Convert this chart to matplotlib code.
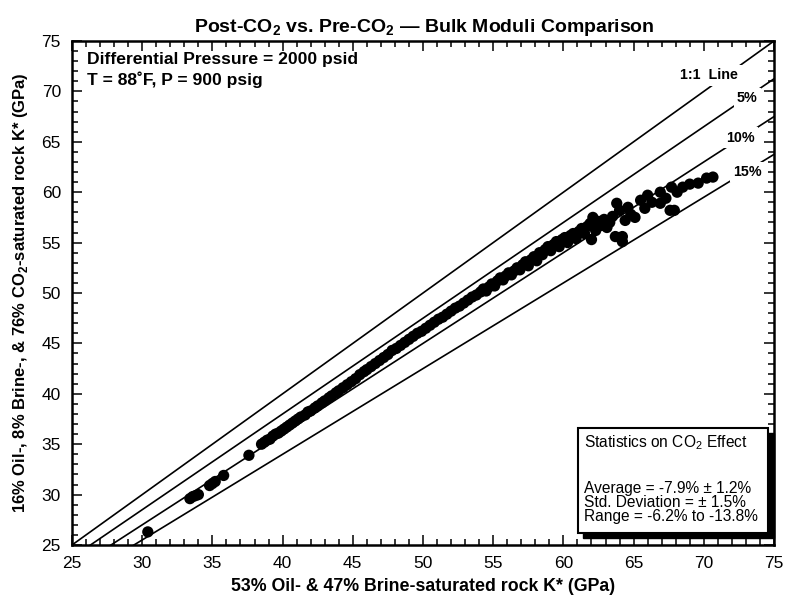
import matplotlib
matplotlib.use("Agg")
import matplotlib.pyplot as plt
from matplotlib.patches import Rectangle
from matplotlib.ticker import MultipleLocator

plt.rcParams['font.family'] = ['Liberation Sans', 'DejaVu Sans']
plt.rcParams['mathtext.fontset'] = 'custom'
plt.rcParams['mathtext.rm'] = 'Liberation Sans'
plt.rcParams['mathtext.bf'] = 'Liberation Sans:bold'

# ---- data ----
pre_co2 = [30.4, 33.4, 33.6, 33.8, 34.0, 34.8, 35.0, 35.2, 35.8, 37.6,
           38.5, 38.7, 38.9, 39.1, 39.3, 39.5, 39.7, 39.9, 40.1, 40.3,
           40.5, 40.7, 40.9, 41.1, 41.3, 41.6, 41.8, 42.0, 42.3, 42.5,
           42.8, 43.0, 43.3, 43.5, 43.8, 44.0, 44.3, 44.6, 44.9, 45.2,
           45.5, 45.8, 46.0, 46.3, 46.6, 46.9, 47.2, 47.5, 47.8, 48.1,
           48.4, 48.7, 49.0, 49.3, 49.6, 49.9, 50.2, 50.5, 50.8, 51.1,
           51.4, 51.7, 52.0, 52.3, 52.6, 52.9, 53.2, 53.5, 53.8, 54.1,
           54.3, 54.5, 54.7, 54.9, 55.1, 55.3, 55.5, 55.7, 55.9, 56.1,
           56.3, 56.5, 56.7, 56.9, 57.1, 57.3, 57.5, 57.7, 57.9, 58.1,
           58.3, 58.5, 58.7, 58.9, 59.1, 59.3, 59.5, 59.7, 59.9, 60.1,
           60.3, 60.5, 60.7, 60.9, 61.1, 61.3, 61.5, 61.7, 61.9, 62.0,
           62.1, 62.3, 62.5, 62.7, 62.9, 63.1, 63.3, 63.5, 63.7, 63.8,
           64.0, 64.2, 64.2, 64.4, 64.6, 64.8, 65.1, 65.5, 65.8, 66.0,
           66.3, 66.9, 66.9, 67.3, 67.6, 67.7, 67.9, 68.1, 68.5, 69.0,
           69.6, 70.2, 70.65]
post_co2 = [26.3, 29.6, 29.8, 29.9, 30.0, 30.9, 31.1, 31.3, 31.9, 33.9,
            35.0, 35.2, 35.4, 35.5, 35.8, 36.0, 36.1, 36.3, 36.5, 36.7,
            36.9, 37.1, 37.3, 37.5, 37.7, 37.9, 38.2, 38.3, 38.6, 38.8,
            39.1, 39.3, 39.6, 39.8, 40.1, 40.3, 40.6, 40.9, 41.2, 41.5,
            41.9, 42.2, 42.4, 42.7, 43.0, 43.3, 43.6, 43.9, 44.3, 44.5,
            44.8, 45.1, 45.4, 45.7, 46.0, 46.2, 46.5, 46.8, 47.1, 47.4,
            47.6, 47.9, 48.2, 48.5, 48.7, 49.0, 49.3, 49.6, 49.8, 50.1,
            50.4, 50.2, 50.6, 50.9, 50.7, 51.2, 51.5, 51.3, 51.7, 52.0,
            51.8, 52.2, 52.5, 52.3, 52.8, 53.1, 52.7, 53.3, 53.6, 53.2,
            54.0, 53.8, 54.3, 54.6, 54.2, 54.8, 55.1, 54.6, 55.3, 55.5,
            55.0, 55.7, 55.9, 55.4, 56.1, 56.4, 55.9, 56.6, 56.9, 55.3,
            57.5, 56.2, 57.1, 56.7, 57.3, 56.5, 57.0, 57.6, 55.6, 58.9,
            58.2, 55.6, 55.1, 57.2, 58.5, 57.8, 57.5, 59.2, 58.4, 59.7,
            59.0, 60.0, 58.9, 59.4, 58.2, 60.5, 58.2, 60.0, 60.5, 60.8,
            60.9, 61.4, 61.5]

line_pcts = [0, 5, 10, 15]
line_labels = ["1:1  Line", "5%", "10%", "15%"]
axis_range = [25, 75]
stats_title = r"Statistics on CO$_2$ Effect"
stats_lines = ["Average = -7.9% \u00b1 1.2%",
               "Std. Deviation = \u00b1 1.5%",
               "Range = -6.2% to -13.8%"]

# ---- figure ----
fig = plt.figure(figsize=(7.86, 6.02), dpi=100)
ax = fig.add_axes([72/786, 57/602, 702/786, 504/602])
ax.set_xlim(axis_range)
ax.set_ylim(axis_range)

# reference lines
for p in line_pcts:
    ax.plot(axis_range, [v * (1 - p / 100) for v in axis_range],
            color='black', lw=1.2, zorder=2)

# line labels (white box breaks the line)
label_pos = [(70.4, 71.6), (73.1, 69.3), (72.6, 65.4), (73.1, 62.0)]
for (tx, ty), lab in zip(label_pos, line_labels):
    ax.text(tx, ty, lab, ha='center', va='center', fontsize=10.3,
            fontweight='bold', zorder=4,
            bbox=dict(facecolor='white', edgecolor='none', pad=2.5))

# data
ax.scatter(pre_co2, post_co2, s=66, color='black', edgecolors='none', zorder=3)

# ticks
ax.xaxis.set_major_locator(MultipleLocator(5))
ax.yaxis.set_major_locator(MultipleLocator(5))
ax.xaxis.set_minor_locator(MultipleLocator(1))
ax.yaxis.set_minor_locator(MultipleLocator(1))
ax.tick_params(which='both', direction='in', top=True, right=True,
               width=1.1, colors='black')
ax.tick_params(which='major', length=7, labelsize=12.5, pad=8)
ax.tick_params(which='minor', length=4)
for s in ax.spines.values():
    s.set_linewidth(1.8)

# labels
ax.set_xlabel("53% Oil- & 47% Brine-saturated rock K* (GPa)",
              fontsize=12.8, fontweight='bold', labelpad=5)
ax.set_ylabel(r"16% Oil-, 8% Brine-, & 76% CO$_\mathbf{2}$-saturated rock K* (GPa)",
              fontsize=12.0, fontweight='bold', labelpad=8)
fig.text(0.54, 0.955,
         "Post-CO$_\\mathbf{2}$ vs. Pre-CO$_\\mathbf{2}$ \u2014 Bulk Moduli Comparison",
         ha='center', va='center', fontsize=14, fontweight='bold')

# conditions text
ax.text(0.022, 0.964, "Differential Pressure = 2000 psid",
        transform=ax.transAxes, fontsize=12.6, fontweight='bold', va='center')
ax.text(0.022, 0.923, "T = 88\u02daF, P = 900 psig",
        transform=ax.transAxes, fontsize=12.6, fontweight='bold', va='center')

# stats box with shadow
bx0, by0, bw, bh = 0.721, 0.024, 0.271, 0.208
ax.add_patch(Rectangle((bx0 + 0.0075, by0 - 0.0105), bw, bh, transform=ax.transAxes,
                       facecolor='black', edgecolor='black', zorder=5, clip_on=False))
ax.add_patch(Rectangle((bx0, by0), bw, bh, transform=ax.transAxes,
                       facecolor='white', edgecolor='black', lw=1.5, zorder=6,
                       clip_on=False))
ax.text(bx0 + 0.008, 0.204, stats_title,
        transform=ax.transAxes, fontsize=11.2, va='center', zorder=7)
ax.text(bx0 + 0.008, 0.084, "\n".join(stats_lines), transform=ax.transAxes,
        fontsize=11.2, va='center', linespacing=0.92, zorder=7)

fig.savefig("out.png", dpi=100)
